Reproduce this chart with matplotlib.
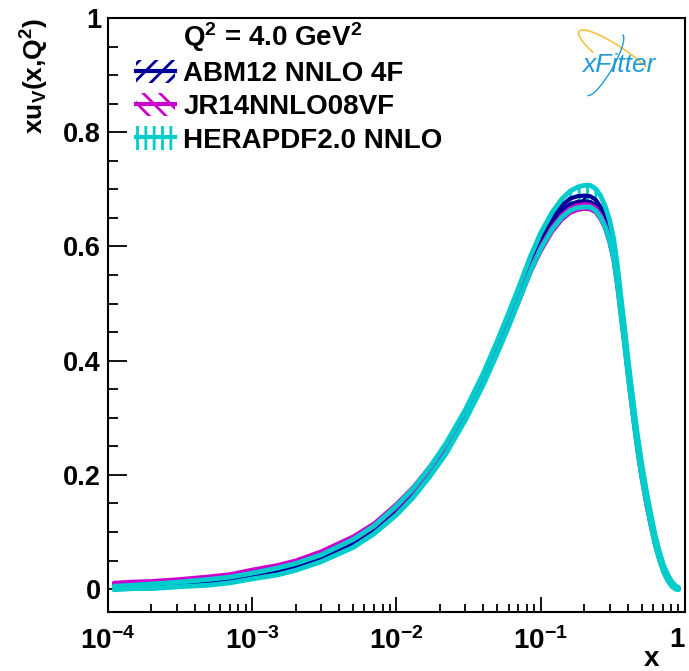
import matplotlib
matplotlib.use("Agg")
import matplotlib.pyplot as plt
from matplotlib.patches import Patch, Arc
from matplotlib.lines import Line2D
from matplotlib.ticker import LogLocator, MultipleLocator, FixedLocator, NullFormatter

plt.rcParams['font.family'] = ['Liberation Sans', 'DejaVu Sans']
plt.rcParams['font.weight'] = 'bold'
plt.rcParams['mathtext.fontset'] = 'custom'
plt.rcParams['mathtext.rm'] = 'Liberation Sans:bold'
plt.rcParams['mathtext.it'] = 'Liberation Sans:bold:italic'
plt.rcParams['mathtext.bf'] = 'Liberation Sans:bold'
plt.rcParams['mathtext.default'] = 'rm'
plt.rcParams['hatch.linewidth'] = 2.0

# ---- data ----
x_vals = [1.1e-4, 1.5e-4, 2e-4, 3e-4, 5e-4, 7e-4, 1e-3, 1.5e-3, 2e-3, 3e-3,
          5e-3, 7e-3, 1e-2, 1.3e-2, 1.7e-2, 2.2e-2, 3e-2, 4e-2, 5e-2, 6e-2,
          7e-2, 8.5e-2, 0.1, 0.12, 0.14, 0.16, 0.18, 0.2, 0.22, 0.24,
          0.26, 0.28, 0.3, 0.32, 0.34, 0.36, 0.38, 0.41, 0.44, 0.47,
          0.5, 0.54, 0.58, 0.62, 0.66, 0.71, 0.76, 0.81, 0.86, 0.9]

hera_c = [0.002, 0.004, 0.005, 0.008, 0.012, 0.016, 0.023, 0.031, 0.039, 0.054,
          0.080, 0.104, 0.138, 0.168, 0.205, 0.246, 0.305, 0.368, 0.424, 0.472,
          0.515, 0.570, 0.610, 0.645, 0.667, 0.680, 0.686, 0.688, 0.688, 0.682,
          0.670, 0.652, 0.628, 0.597, 0.550, 0.495, 0.445, 0.372, 0.310, 0.255,
          0.210, 0.162, 0.122, 0.087, 0.061, 0.036, 0.020, 0.009, 0.003, 0.001]
hera_e = [0.003, 0.003, 0.004, 0.004, 0.005, 0.005, 0.005, 0.006, 0.006, 0.006,
          0.007, 0.007, 0.008, 0.008, 0.008, 0.009, 0.009, 0.010, 0.011, 0.012,
          0.012, 0.013, 0.014, 0.015, 0.016, 0.017, 0.018, 0.019, 0.019, 0.019,
          0.019, 0.018, 0.018, 0.017, 0.016, 0.016, 0.015, 0.014, 0.013, 0.012,
          0.011, 0.010, 0.009, 0.008, 0.007, 0.006, 0.005, 0.004, 0.003, 0.002]

abm_c = [0.005, 0.006, 0.008, 0.011, 0.015, 0.019, 0.027, 0.035, 0.043, 0.058,
         0.084, 0.108, 0.142, 0.172, 0.209, 0.250, 0.309, 0.372, 0.428, 0.476,
         0.519, 0.574, 0.614, 0.648, 0.668, 0.679, 0.683, 0.684, 0.683, 0.677,
         0.664, 0.646, 0.621, 0.589, 0.542, 0.488, 0.438, 0.365, 0.303, 0.249,
         0.204, 0.157, 0.118, 0.084, 0.059, 0.035, 0.019, 0.009, 0.003, 0.001]
abm_e = [0.002, 0.002, 0.002, 0.002, 0.002, 0.002, 0.002, 0.003, 0.003, 0.003,
         0.003, 0.003, 0.003, 0.003, 0.003, 0.003, 0.003, 0.003, 0.004, 0.004,
         0.004, 0.004, 0.004, 0.004, 0.004, 0.005, 0.005, 0.005, 0.005, 0.005,
         0.005, 0.005, 0.004, 0.004, 0.004, 0.004, 0.004, 0.004, 0.003, 0.003,
         0.003, 0.003, 0.003, 0.002, 0.002, 0.002, 0.002, 0.001, 0.001, 0.001]

jr_c = [0.009, 0.011, 0.012, 0.015, 0.020, 0.024, 0.032, 0.040, 0.048, 0.063,
        0.089, 0.112, 0.146, 0.175, 0.211, 0.250, 0.306, 0.366, 0.418, 0.464,
        0.505, 0.558, 0.596, 0.630, 0.651, 0.663, 0.668, 0.670, 0.669, 0.664,
        0.652, 0.635, 0.611, 0.579, 0.532, 0.483, 0.433, 0.360, 0.298, 0.243,
        0.198, 0.151, 0.113, 0.080, 0.056, 0.033, 0.018, 0.008, 0.003, 0.001]
jr_e = [0.002, 0.002, 0.002, 0.002, 0.002, 0.002, 0.002, 0.002, 0.002, 0.003,
        0.003, 0.003, 0.003, 0.003, 0.003, 0.003, 0.003, 0.003, 0.003, 0.003,
        0.003, 0.003, 0.004, 0.004, 0.004, 0.004, 0.004, 0.004, 0.004, 0.004,
        0.004, 0.004, 0.004, 0.004, 0.004, 0.004, 0.004, 0.003, 0.003, 0.003,
        0.003, 0.003, 0.003, 0.002, 0.002, 0.002, 0.002, 0.001, 0.001, 0.001]

series_names = ["ABM12 NNLO 4F", "JR14NNLO08VF", "HERAPDF2.0 NNLO"]
series_colors = ["#000099", "#cc00cc", "#00cccc"]
series_hatch = ["//", "\\\\", "||"]

x_major = [1e-4, 1e-3, 1e-2, 1e-1, 1]
x_major_labels = ["10$^{-4}$", "10$^{-3}$", "10$^{-2}$", "10$^{-1}$", "1"]
y_major = [0, 0.2, 0.4, 0.6, 0.8, 1]
y_major_labels = ["0", "0.2", "0.4", "0.6", "0.8", "1"]

W, H = 689, 671
fig = plt.figure(figsize=(W / 100, H / 100), dpi=100)
ax = fig.add_axes([108 / W, 1 - 612 / H, (685 - 108) / W, (612 - 18) / H])

data = [(abm_c, abm_e), (jr_c, jr_e), (hera_c, hera_e)]
lws = [3.0, 3.0, 3.5]
for (c, e), col, hat, lw in zip(data, series_colors, series_hatch, lws):
    lo = [a - b for a, b in zip(c, e)]
    hi = [a + b for a, b in zip(c, e)]
    ax.fill_between(x_vals, lo, hi, facecolor='none', edgecolor=col, hatch=hat, linewidth=0)
    ax.plot(x_vals, lo, color=col, lw=lw, solid_joinstyle='round', solid_capstyle='round')
    ax.plot(x_vals, hi, color=col, lw=lw, solid_joinstyle='round', solid_capstyle='round')

ax.set_xscale('log')
ax.set_xlim(1e-4, 1)
ax.set_ylim(-0.040, 1.0)

ax.xaxis.set_major_locator(FixedLocator(x_major))
ax.set_xticklabels(x_major_labels)
ax.xaxis.set_minor_locator(LogLocator(base=10, subs=range(2, 10)))
ax.xaxis.set_minor_formatter(NullFormatter())
ax.yaxis.set_major_locator(FixedLocator(y_major))
ax.set_yticklabels(y_major_labels)
ax.yaxis.set_minor_locator(MultipleLocator(0.05))

for s in ax.spines.values():
    s.set_linewidth(1.5)
ax.tick_params(axis='x', which='major', direction='in', length=11, width=1.3, pad=11, labelsize=20)
ax.tick_params(axis='x', which='minor', direction='in', length=5.5, width=1.3)
ax.tick_params(axis='y', which='major', direction='in', length=14, width=1.3, pad=5, labelsize=19.5)
ax.tick_params(axis='y', which='minor', direction='in', length=7, width=1.3)
for lab in ax.get_xticklabels() + ax.get_yticklabels():
    lab.set_fontweight('bold')
xl = ax.get_xticklabels()
xl[-1].set_horizontalalignment('right')

fig.text(35 / W, 1 - 18 / H, "xu$_{V}$(x,Q$^{2}$)", rotation=90, ha='center', va='top',
         fontsize=19, fontweight='bold')
fig.text(652 / W, 1 - 659 / H, "x", ha='center', va='center', fontsize=20, fontweight='bold')

fig.text(183 / W, 1 - 37 / H, "Q$^{2}$ = 4.0 GeV$^{2}$", ha='left', va='center',
         fontsize=20, fontweight='bold')

handles = []
for col, hat in zip(series_colors, series_hatch):
    p = Patch(facecolor='none', edgecolor=col, hatch=hat, linewidth=0)
    l = Line2D([0], [0], color=col, lw=3)
    handles.append((p, l))
leg = ax.legend(handles, series_names, loc='upper left', bbox_to_anchor=(136 / W, 1 - 60 / H),
                bbox_transform=fig.transFigure, frameon=False, fontsize=20,
                handlelength=1.4, handleheight=0.9, handletextpad=0.3, labelspacing=0.22,
                borderpad=0, borderaxespad=0)
for t in leg.get_texts():
    t.set_fontweight('bold')

# xFitter logo
fig.text(619 / W, 1 - 65 / H, "xFitter", ha='center', va='center', fontsize=19,
         style='italic', fontweight='normal', color='#1e9ad6')
logo_ax = fig.add_axes([560 / W, 1 - 100 / H, 110 / W, 75 / H])
logo_ax.set_xlim(0, 110)
logo_ax.set_ylim(0, 75)
logo_ax.axis('off')
logo_ax.add_patch(Arc((60, 40), 100, 22, angle=-35, theta1=20, theta2=200, color='#f5c242', lw=1.2))
logo_ax.add_patch(Arc((45, 35), 70, 16, angle=60, theta1=180, theta2=360, color='#1e9ad6', lw=1.0))

fig.savefig("out.png", dpi=100)
